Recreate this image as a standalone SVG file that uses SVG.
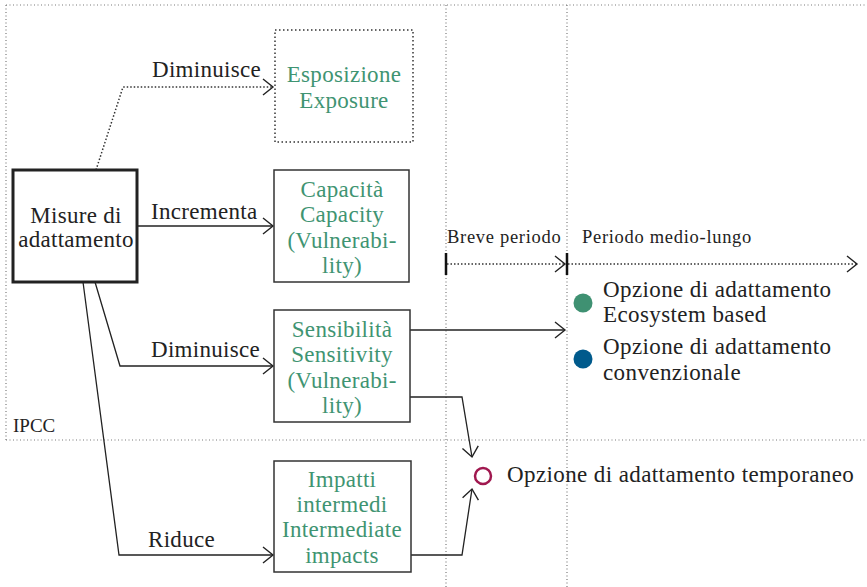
<svg xmlns="http://www.w3.org/2000/svg" width="867" height="587" viewBox="0 0 867 587">
  <style>
    text { font-family: "Liberation Serif", "Times New Roman", serif; font-size: 23px; fill: #222; letter-spacing: 0.3px; }
    .green { fill: #3f9472; text-anchor: middle; }
    .mid { text-anchor: middle; }
    .small { font-size: 18.5px; letter-spacing: 0.7px; }
    .legend { letter-spacing: 0.4px; }
    .ipcc { font-size: 19px; letter-spacing: 0; }
    .frame { fill: none; stroke: #7a7a7a; stroke-width: 1.2; stroke-dasharray: 1 2.5; }
    .box { fill: #fff; stroke: #333; stroke-width: 1.5; }
    .conn { fill: none; stroke: #222; stroke-width: 1.3; marker-end: url(#chev); }
    .dots { fill: none; stroke: #333; stroke-width: 1.5; stroke-dasharray: 1.5 2; }
  </style>
  <defs>
    <marker id="chev" markerUnits="userSpaceOnUse" markerWidth="14" markerHeight="20" refX="11" refY="9" orient="auto">
      <path d="M1,1 L11,9 L1,17" fill="none" stroke="#222" stroke-width="1.4"/>
    </marker>
  </defs>

  <rect width="867" height="587" fill="#fff"/>

  <!-- IPCC frame and time columns -->
  <g id="frame">
    <path class="frame" d="M6,5 H867 M6,5 V440 M6,440 H867"/>
    <path class="frame" d="M446,5 V587 M567,5 V587"/>
    <text class="ipcc" x="13" y="432">IPCC</text>
  </g>

  <!-- time axis -->
  <g id="timeline">
    <path d="M446,253 V275 M567,253 V275" stroke="#111" stroke-width="2.5"/>
    <path class="dots" d="M447,264 H565" marker-end="url(#chev)"/>
    <path class="dots" d="M568,264 H857" marker-end="url(#chev)"/>
    <text class="small" x="447" y="243">Breve periodo</text>
    <text class="small" x="582" y="243">Periodo medio-lungo</text>
  </g>

  <!-- connectors -->
  <g id="connectors">
    <path class="dots" d="M96,170 L123,87 L273,87" stroke-width="1.3" marker-end="url(#chev)"/>
    <path class="conn" d="M137,226 L273,226"/>
    <path class="conn" d="M95,282 L120,366 L273,366"/>
    <path class="conn" d="M83,282 L119,555 L273,555"/>
    <path class="conn" d="M410,330 L565,330"/>
    <path class="conn" d="M410,397 L462,397 L472,457"/>
    <path class="conn" d="M411,555 L462,555 L472,489"/>
    <text x="152" y="77">Diminuisce</text>
    <text x="151" y="219">Incrementa</text>
    <text x="151" y="357">Diminuisce</text>
    <text x="148" y="547">Riduce</text>
  </g>

  <g id="misure">
    <rect x="13" y="170" width="124" height="112" fill="#fff" stroke="#222" stroke-width="3"/>
    <text class="mid" x="76" y="223">Misure di</text>
    <text class="mid" x="76" y="247">adattamento</text>
  </g>

  <g id="esposizione">
    <rect x="275" y="30" width="138" height="112" fill="#fff" stroke="#333" stroke-width="1.5" stroke-dasharray="1.5 2.5"/>
    <text class="green" x="344" y="82">Esposizione</text>
    <text class="green" x="344" y="108">Exposure</text>
  </g>

  <g id="capacita">
    <rect class="box" x="274" y="170" width="135" height="112"/>
    <text class="green" x="342" y="197">Capacità</text>
    <text class="green" x="342" y="222">Capacity</text>
    <text class="green" x="342" y="248">(Vulnerabi-</text>
    <text class="green" x="342" y="273">lity)</text>
  </g>

  <g id="sensibilita">
    <rect class="box" x="274" y="310" width="136" height="112"/>
    <text class="green" x="342" y="337">Sensibilità</text>
    <text class="green" x="342" y="362">Sensitivity</text>
    <text class="green" x="342" y="388">(Vulnerabi-</text>
    <text class="green" x="342" y="413">lity)</text>
  </g>

  <g id="impatti">
    <rect class="box" x="274" y="461" width="137" height="111"/>
    <text class="green" x="342" y="487">Impatti</text>
    <text class="green" x="342" y="512">intermedi</text>
    <text class="green" x="342" y="537">Intermediate</text>
    <text class="green" x="342" y="563">impacts</text>
  </g>

  <g id="ecosystem">
    <circle cx="583" cy="303" r="9.5" fill="#3f9172"/>
    <text class="legend" x="603" y="297">Opzione di adattamento</text>
    <text class="legend" x="603" y="322">Ecosystem based</text>
  </g>

  <g id="convenzionale">
    <circle cx="583" cy="359" r="9.5" fill="#005a8c"/>
    <text class="legend" x="603" y="354">Opzione di adattamento</text>
    <text class="legend" x="603" y="380">convenzionale</text>
  </g>

  <g id="temporaneo">
    <circle cx="483" cy="476" r="8" fill="#fff" stroke="#a0184f" stroke-width="2.5"/>
    <text class="legend" x="507" y="482">Opzione di adattamento temporaneo</text>
  </g>
</svg>
